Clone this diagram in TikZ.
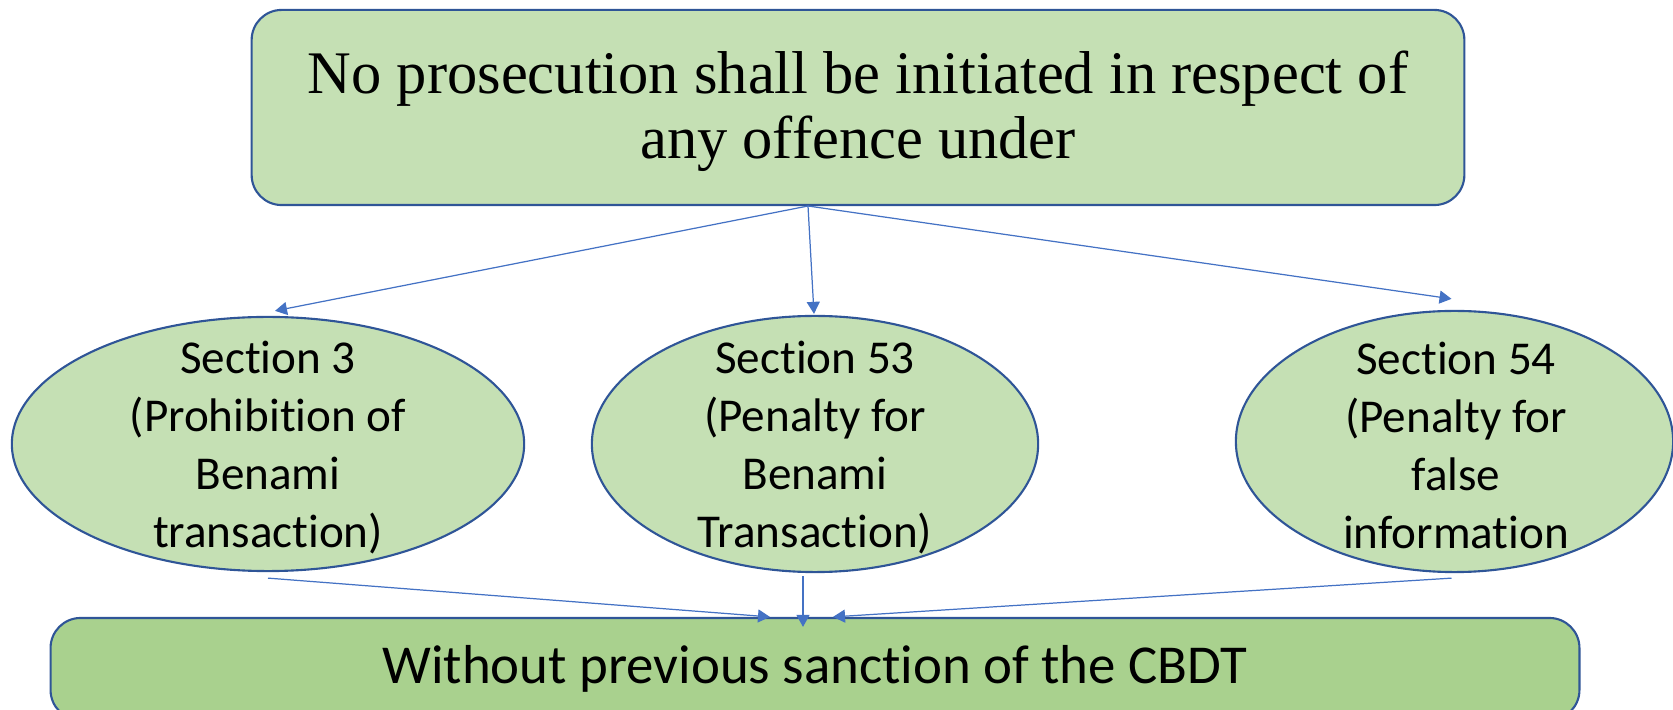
\documentclass[tikz,border=0pt]{standalone}
\usepackage[svgnames]{xcolor}
\usepackage{fontspec}
\setmainfont{Liberation Serif}
\newfontfamily\calibri[RawFeature={-liga;-clig;-calt;-dlig;-rlig}]{Carlito}
\usetikzlibrary{arrows.meta,shapes.geometric}
\definecolor{BoxGreen}{HTML}{C5E0B4}
\definecolor{BarGreen}{HTML}{A9D18E}
\definecolor{EdgeBlue}{HTML}{2F5597}
\definecolor{ArrowBlue}{HTML}{4472C4}

\begin{document}
\begin{tikzpicture}[x=0.01cm, y=-0.01cm, -{Triangle[length=1.2mm,width=1.3mm]}, color=ArrowBlue, line width=0.35pt,
      box/.style={draw=EdgeBlue, line width=0.6pt, fill=BoxGreen, rounded corners=0.3cm, text=black},
      sec/.style={draw=EdgeBlue, line width=0.6pt, fill=BoxGreen, ellipse, inner sep=0pt},
      sectext/.style={align=center, text=black, font=\calibri\fontsize{13.4}{16.5}\selectfont}]
    \useasboundingbox (0,0) rectangle (1673,710);
    \node (PROSECUTION) [box, minimum width=12.12cm, minimum height=1.95cm, align=center,
      font=\fontsize{17.2}{18.5}\selectfont] at (858,107.5) {\rule{0pt}{14.5pt}No prosecution shall be initiated in respect of\\any offence under};
    \node (sec3) [sec, minimum width=5.12cm, minimum height=2.54cm] at (268,444) {};
    \node (sec53) [sec, minimum width=4.46cm, minimum height=2.56cm] at (815,444) {};
    \node (sec54) [sec, minimum width=4.37cm, minimum height=2.61cm] at (1454.5,441.5) {};
    \node (sec3text) [sectext] at (268,448) {Section 3\\(Prohibition of\\Benami\\transaction)};
    \node (sec53text) [sectext] at (815,448) {Section 53\\(Penalty for\\Benami\\Transaction)};
    \node (sec54text) [sectext] at (1456,445.5) {Section 54\\(Penalty for\\false\\information};
    \node (CBDT) [box, fill=BarGreen, minimum width=15.28cm, minimum height=1.02cm,
      font=\calibri\fontsize{15.6}{18}\selectfont] at (815,669) {Without previous sanction of the CBDT};
    \coordinate (fork) at (808,206);
    \draw (fork) -- ([shift={(7,-5)}]sec3.north);
    \draw (fork) -- ([shift={(-1,-1)}]sec53.north);
    \draw (fork) -- ([shift={(-3,-11)}]sec54.north);
    \draw ([shift={(0,6)}]sec3.south) -- ([shift={(-45,0)}]CBDT.north);
    \draw ([shift={(-12,3)}]sec53.south) -- ([shift={(-12,10)}]CBDT.north);
    \draw ([shift={(-3,5)}]sec54.south) -- ([shift={(18,0)}]CBDT.north);
  \end{tikzpicture}
\end{document}
